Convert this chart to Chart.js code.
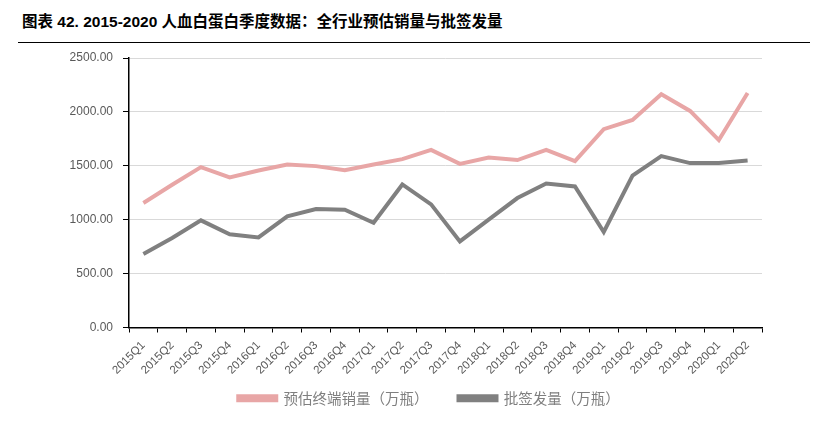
<!DOCTYPE html>
<html>
<head>
<meta charset="utf-8">
<script src="https://cdn.jsdelivr.net/npm/chart.js@4"></script>
<style>
  html, body { margin: 0; padding: 0; background: #fff; }
  #wrap { position: relative; width: 824px; height: 427px; }
  #title {
    position: absolute; left: 18px; top: 9px; width: 792px; height: 34px;
    border-bottom: 1px solid #000;
    font: bold 15.5px "Liberation Sans", "Noto Sans CJK SC", sans-serif;
    color: #000; line-height: 26px; padding-left: 4px; box-sizing: border-box;
  }
  canvas { position: absolute; left: 0; top: 0; }
</style>
</head>
<body>
<div id="wrap">
  <div id="title">图表 42. 2015-2020 人血白蛋白季度数据：全行业预估销量与批签发量</div>
  <canvas id="myChart" width="824" height="427"></canvas>
</div>
<script>
// quarters on the x axis
const quarters = ['2015Q1', '2015Q2', '2015Q3', '2015Q4', '2016Q1', '2016Q2', '2016Q3', '2016Q4',
  '2017Q1', '2017Q2', '2017Q3', '2017Q4', '2018Q1', '2018Q2', '2018Q3', '2018Q4',
  '2019Q1', '2019Q2', '2019Q3', '2019Q4', '2020Q1', '2020Q2'];

// 预估终端销量（万瓶）
const salesEst = [1155, 1324, 1488, 1392, 1457, 1512, 1497, 1460, 1512, 1562, 1648,
  1518, 1577, 1553, 1648, 1543, 1840, 1926, 2164, 2009, 1738, 2176];

// 批签发量（万瓶）
const batchIssued = [682, 830, 994, 864, 836, 1031, 1099, 1093, 972, 1327, 1142,
  799, 1000, 1201, 1336, 1309, 886, 1410, 1590, 1525, 1525, 1549];

const seriesNames = ['预估终端销量（万瓶）', '批签发量（万瓶）'];
const yTicks = [0, 500, 1000, 1500, 2000, 2500];

// put the legend where the original has it (centred a bit right of the plot, just under the labels)
const legendSpot = {
  id: 'legendSpot',
  afterLayout(chart) {
    const lg = chart.legend;
    const h = lg.bottom - lg.top;
    lg.left = 48;
    lg.right = 810;
    lg.top = 361;
    lg.bottom = 361 + h;
  }
};

const ctx = document.getElementById('myChart');
const myChart = new Chart(ctx, {
  type: 'line',
  data: {
    labels: quarters,
    datasets: [
      {
        label: seriesNames[0],
        data: salesEst,
        borderColor: '#E8A6A6',
        backgroundColor: '#E8A6A6',
        borderWidth: 4,
        pointRadius: 0,
        tension: 0
      },
      {
        label: seriesNames[1],
        data: batchIssued,
        borderColor: '#808080',
        backgroundColor: '#808080',
        borderWidth: 4,
        pointRadius: 0,
        tension: 0
      }
    ]
  },
  plugins: [legendSpot],
  options: {
    responsive: false,
    animation: false,
    layout: { padding: { left: 0, right: 62, top: 58, bottom: -3 } },
    plugins: {
      tooltip: { enabled: false },
      legend: {
        position: 'bottom',
        labels: {
          boxWidth: 38,
          boxHeight: 4,
          padding: 30,
          color: '#7f7f7f',
          font: { family: '"Noto Sans CJK SC"', size: 14.5 }
        }
      }
    },
    scales: {
      x: {
        offset: true,
        grid: {
          offset: true,
          drawOnChartArea: false,
          drawTicks: true,
          tickLength: 5,
          tickColor: '#000'
        },
        border: { color: '#000', width: 1.5 },
        ticks: {
          minRotation: 45,
          maxRotation: 45,
          autoSkip: false,
          padding: 6,
          color: '#595959',
          font: { family: '"Liberation Sans"', size: 11.5 }
        },
        afterFit: (scale) => { scale.height = 48; }
      },
      y: {
        min: 0,
        max: 2500,
        afterBuildTicks: (scale) => { scale.ticks = yTicks.map(v => ({ value: v })); },
        grid: {
          color: '#d9d9d9',
          lineWidth: 1,
          drawTicks: true,
          tickLength: 6,
          tickColor: '#000'
        },
        border: { color: '#000', width: 1.5 },
        ticks: {
          padding: 10,
          color: '#595959',
          font: { family: '"Liberation Sans"', size: 12 },
          callback: (v) => Number(v).toFixed(2)
        },
        afterFit: (scale) => { scale.width = 129; }
      }
    }
  }
});
</script>
</body>
</html>
